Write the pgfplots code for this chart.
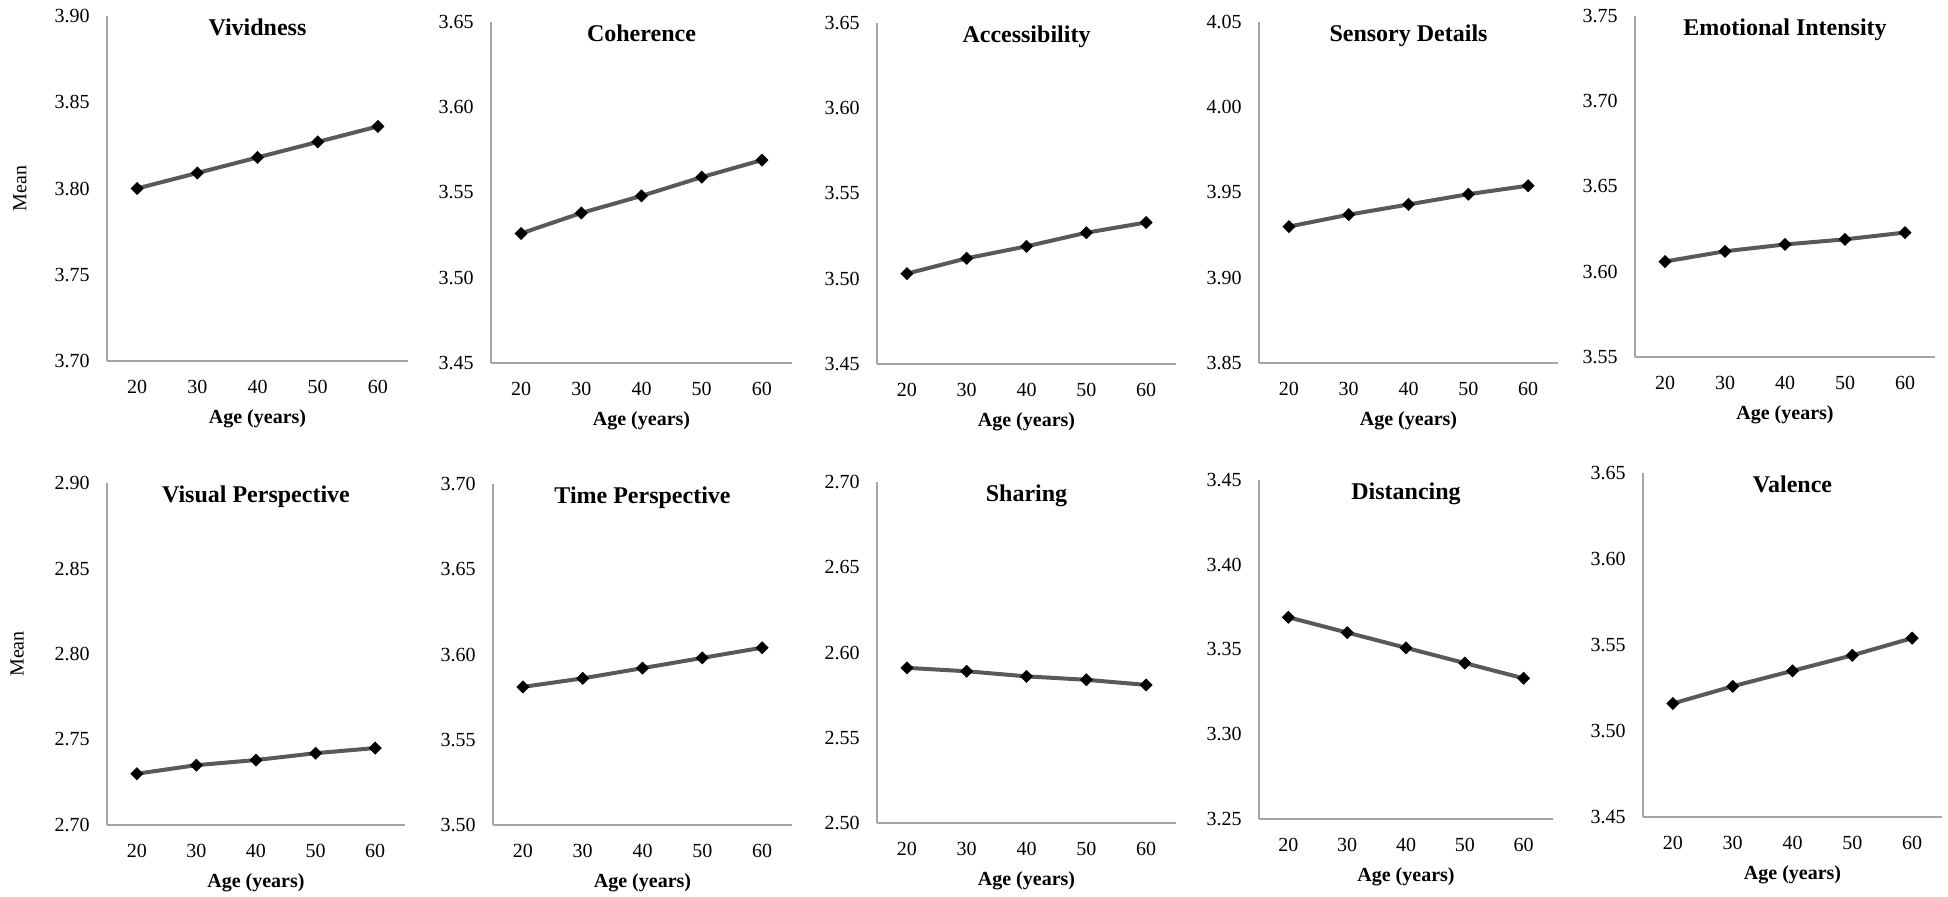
\documentclass[border=0pt]{standalone}
\usepackage{fontspec}
\setmainfont{Liberation Serif}
\usepackage{pgfplots}
\pgfplotsset{compat=1.18}
\definecolor{axisgray}{RGB}{165,165,165}
\definecolor{linegray}{RGB}{89,89,89}

\pgfplotsset{
  panel/.style={
    scale only axis,
    anchor=south west,
    xmin=15, xmax=65,
    xtick={20,30,40,50,60},
    axis x line*=bottom,
    axis y line*=left,
    axis line style={draw=axisgray, line width=0.6pt},
    major tick length=0pt,
    /pgf/number format/assume math mode=true,
    tick label style={font=\fontsize{10}{12}\selectfont, inner sep=0pt},
    xticklabel style={yshift=-9.5pt},
    yticklabel style={xshift=-8.5pt, /pgf/number format/.cd, fixed, fixed zerofill, precision=2},
    title style={at={(axis description cs:0.5,1)}, anchor=north, yshift=-7pt,
      inner sep=0pt, font=\bfseries\fontsize{12}{14}\selectfont},
    xlabel={Age (years)},
    xlabel style={at={(axis description cs:0.5,0)}, anchor=north, yshift=-24pt,
      inner sep=0pt, font=\bfseries\fontsize{10}{12}\selectfont},
    ylabel style={anchor=south, inner sep=0pt, font=\fontsize{10}{12}\selectfont},
    every axis plot post/.append style={draw=linegray, line width=2pt, mark=square*,
      mark size=2.1pt, mark options={rotate=45, fill=black, draw=black, line width=0.4pt}},
  },
}

\begin{document}
\begin{tikzpicture}
\useasboundingbox (0,0) rectangle (974pt,448pt);

% top row
\begin{axis}[panel, at={(53.5pt,267.5pt)}, width=150.5pt, height=172.5pt,
  ymin=3.70, ymax=3.90, ytick={3.70,3.75,3.80,3.85,3.90},
  title={Vividness}, ylabel={Mean},
  ylabel style={at={(axis description cs:-0.266,0.5)}}]
\addplot coordinates {(20,3.800) (30,3.809) (40,3.818) (50,3.827) (60,3.836)};
\end{axis}

\begin{axis}[panel, at={(245.5pt,266.5pt)}, width=150.5pt, height=170.5pt,
  ymin=3.45, ymax=3.65, ytick={3.45,3.50,3.55,3.60,3.65},
  title={Coherence}]
\addplot coordinates {(20,3.526) (30,3.538) (40,3.548) (50,3.559) (60,3.569)};
\end{axis}

\begin{axis}[panel, at={(438.5pt,266pt)}, width=149.5pt, height=170.5pt,
  ymin=3.45, ymax=3.65, ytick={3.45,3.50,3.55,3.60,3.65},
  title={Accessibility}]
\addplot coordinates {(20,3.503) (30,3.512) (40,3.519) (50,3.527) (60,3.533)};
\end{axis}

\begin{axis}[panel, at={(629.5pt,266.5pt)}, width=149.5pt, height=170.5pt,
  ymin=3.85, ymax=4.05, ytick={3.85,3.90,3.95,4.00,4.05},
  title={Sensory Details}]
\addplot coordinates {(20,3.930) (30,3.937) (40,3.943) (50,3.949) (60,3.954)};
\end{axis}

\begin{axis}[panel, at={(817.5pt,269.5pt)}, width=150pt, height=170.5pt,
  ymin=3.55, ymax=3.75, ytick={3.55,3.60,3.65,3.70,3.75},
  title={Emotional Intensity}]
\addplot coordinates {(20,3.606) (30,3.612) (40,3.616) (50,3.619) (60,3.623)};
\end{axis}

% bottom row
\begin{axis}[panel, at={(53.5pt,35.5pt)}, width=149pt, height=171pt,
  ymin=2.70, ymax=2.90, ytick={2.70,2.75,2.80,2.85,2.90},
  title={Visual Perspective}, ylabel={Mean},
  ylabel style={at={(axis description cs:-0.278,0.5)}}]
\addplot coordinates {(20,2.730) (30,2.735) (40,2.738) (50,2.742) (60,2.745)};
\end{axis}

\begin{axis}[panel, at={(246.5pt,35.5pt)}, width=149.5pt, height=170.5pt,
  ymin=3.50, ymax=3.70, ytick={3.50,3.55,3.60,3.65,3.70},
  title={Time Perspective}]
\addplot coordinates {(20,3.581) (30,3.586) (40,3.592) (50,3.598) (60,3.604)};
\end{axis}

\begin{axis}[panel, at={(438.5pt,36.5pt)}, width=149.5pt, height=170.5pt,
  ymin=2.50, ymax=2.70, ytick={2.50,2.55,2.60,2.65,2.70},
  title={Sharing}]
\addplot coordinates {(20,2.591) (30,2.589) (40,2.586) (50,2.584) (60,2.581)};
\end{axis}

\begin{axis}[panel, at={(629.5pt,38.5pt)}, width=147pt, height=169.5pt,
  ymin=3.25, ymax=3.45, ytick={3.25,3.30,3.35,3.40,3.45},
  title={Distancing}]
\addplot coordinates {(20,3.369) (30,3.360) (40,3.351) (50,3.342) (60,3.333)};
\end{axis}

\begin{axis}[panel, at={(821.5pt,39.5pt)}, width=149.5pt, height=172pt,
  ymin=3.45, ymax=3.65, ytick={3.45,3.50,3.55,3.60,3.65},
  title={Valence}]
\addplot coordinates {(20,3.516) (30,3.526) (40,3.535) (50,3.544) (60,3.554)};
\end{axis}

\end{tikzpicture}
\end{document}
